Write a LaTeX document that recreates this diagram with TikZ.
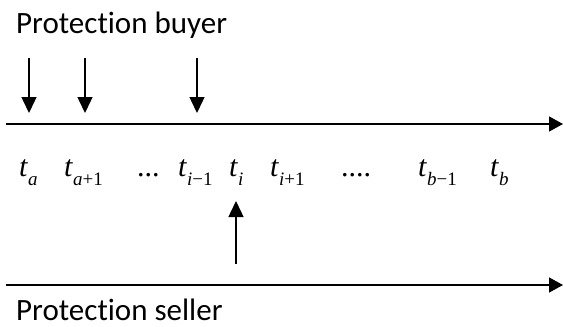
\documentclass[tikz,border=0pt]{standalone}
\usepackage{fontspec}
\setmainfont[Ligatures=CommonOff]{Carlito}
\newfontfamily\mathserif{Liberation Serif}
\usetikzlibrary{arrows.meta}

% time label: italic t with a lowered subscript
\newcommand{\tlabel}[1]{{\mathserif\fontsize{30}{30}\selectfont\textit{t}\raisebox{-9pt}{\fontsize{19}{19}\selectfont#1}}}
\newcommand{\dotsfill}[1]{{\mathserif\fontsize{30}{30}\selectfont#1}}

\begin{document}
\begin{tikzpicture}[x=1pt,y=-1pt,
  axis/.style={line width=1.4pt,-{Triangle[length=14pt,width=15pt]}},
  flow/.style={line width=1.4pt,-{Triangle[length=16pt,width=15pt]}},
  party/.style={anchor=base west,inner sep=0pt,font=\fontsize{31}{31}\selectfont},
  tick/.style={anchor=base west,inner sep=0pt}]
\useasboundingbox (0,0) rectangle (563,327);

% parties
\node[party] (buyer) at (16,33) {Protection buyer};
\node[party] (seller) at (16,320) {Protection seller};

% time axes
\coordinate (topL) at (6,124);
\coordinate (topR) at (563,124);
\coordinate (botL) at (6,285);
\coordinate (botR) at (563,285);
\draw[axis] (topL) -- (topR);
\draw[axis] (botL) -- (botR);

% payment dates
\node[tick] (ta)   at (19,176)  {\tlabel{\textit{a}}};
\node[tick] (ta1)  at (64,176)  {\tlabel{\textit{a}+1}};
\node[tick] (d1)   at (137,176) {\dotsfill{...}};
\node[tick] (tim1) at (178,176) {\tlabel{\textit{i}−1}};
\node[tick] (ti)   at (229,176) {\tlabel{\textit{i}}};
\node[tick] (tip1) at (270,176) {\tlabel{\textit{i}+1}};
\node[tick] (d2)   at (341,176) {\dotsfill{....}};
\node[tick] (tbm1) at (418,176) {\tlabel{\textit{b}−1}};
\node[tick] (tb)   at (490,176) {\tlabel{\textit{b}}};

% premium payments from the buyer
\coordinate (p1s) at (29,58);  \coordinate (p1e) at (29,113);
\coordinate (p2s) at (85,58);  \coordinate (p2e) at (85,113);
\coordinate (p3s) at (197,58); \coordinate (p3e) at (197,113);
\draw[flow] (p1s) -- (p1e);
\draw[flow] (p2s) -- (p2e);
\draw[flow] (p3s) -- (p3e);

% protection payment from the seller
\coordinate (ps) at (236,264);
\coordinate (pe) at (236,201);
\draw[flow] (ps) -- (pe);
\end{tikzpicture}
\end{document}
